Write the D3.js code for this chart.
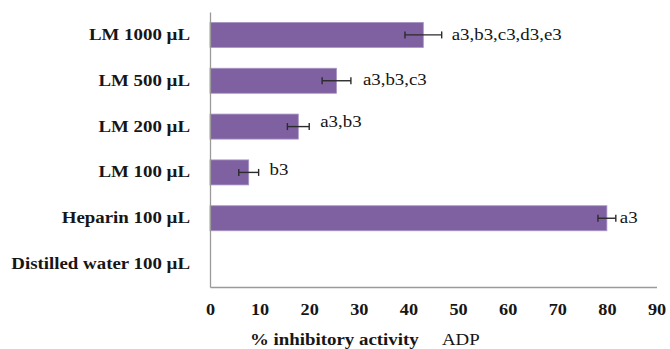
<!DOCTYPE html>
<html>
<head>
<meta charset="utf-8">
<script src="https://cdn.jsdelivr.net/npm/d3@7"></script>
<style>
  html, body { margin: 0; padding: 0; background: #fff; }
  svg { display: block; }
  text { font-family: "Liberation Serif", "Times New Roman", serif; fill: #161616; }
</style>
</head>
<body>
<svg id="chart" width="670" height="349"></svg>
<script>
// Treatments (top to bottom) and their mean % inhibition with standard error
const categories = ["LM 1000 µL", "LM 500 µL", "LM 200 µL", "LM 100 µL", "Heparin 100 µL", "Distilled water 100 µL"];
const values = [43, 25.5, 17.8, 7.8, 80, 0];
const errors = [3.7, 2.9, 2.2, 2.0, 1.8, 0];
const significance = ["a3,b3,c3,d3,e3", "a3,b3,c3", "a3,b3", "b3", "a3", ""];
const xTicks = [0, 10, 20, 30, 40, 50, 60, 70, 80, 90];
const xTitle = "% inhibitory activity";
const xSubTitle = "ADP";

// Text is drawn horizontally widened
const STRETCH = 1.18;
const labelGap = [10, 12, 11, 11, 4, 0];
const labelNudge = [0, -1, -5, -2, 0, 0];

const svg = d3.select("#chart");
const plotLeft = 210, plotRight = 656.5, plotTop = 12, plotBottom = 287;

const x = d3.scaleLinear().domain([0, 90]).range([plotLeft, plotRight]);
const y = d3.scaleBand().domain(categories).range([plotTop, plotBottom])
  .paddingInner(0.454).paddingOuter(0.227);

const rows = categories.map((c, i) => ({
  cat: c, value: values[i], err: errors[i], sig: significance[i],
  gap: labelGap[i], nudge: labelNudge[i]
}));

// Bars
svg.append("g").selectAll("rect").data(rows.filter(d => d.value > 0)).join("rect")
  .attr("x", x(0))
  .attr("y", d => y(d.cat))
  .attr("width", d => x(d.value) - x(0))
  .attr("height", y.bandwidth())
  .attr("fill", "#7f60a1")
  .attr("stroke", "#a995c4")
  .attr("stroke-width", 0.8);

// Error bars
const eb = svg.append("g").attr("stroke", "#2b2b2b").attr("stroke-width", 1.4)
  .selectAll("g").data(rows.filter(d => d.err > 0)).join("g")
  .attr("transform", d => `translate(0,${y(d.cat) + y.bandwidth() / 2})`);
eb.append("line").attr("x1", d => x(d.value - d.err)).attr("x2", d => x(d.value + d.err));
eb.append("line").attr("x1", d => x(d.value - d.err)).attr("x2", d => x(d.value - d.err)).attr("y1", -3.5).attr("y2", 3.5);
eb.append("line").attr("x1", d => x(d.value + d.err)).attr("x2", d => x(d.value + d.err)).attr("y1", -3.5).attr("y2", 3.5);

// Significance letters
svg.append("g").selectAll("text").data(rows.filter(d => d.sig)).join("text")
  .attr("transform", d => `translate(${x(d.value + d.err) + d.gap},${y(d.cat) + y.bandwidth() / 2 + 5 + d.nudge}) scale(${STRETCH},1)`)
  .attr("font-size", 16)
  .text(d => d.sig);

// Left axis (category labels)
const yAxis = svg.append("g").attr("transform", `translate(${plotLeft},0)`)
  .call(d3.axisLeft(y).tickSize(0).tickSizeOuter(0));
yAxis.select(".domain").attr("stroke", "#9a9a9a").attr("stroke-width", 1.3);
yAxis.selectAll(".tick text")
  .attr("x", 0).attr("dy", null).attr("y", 5)
  .attr("transform", `translate(-20,0) scale(${STRETCH},1)`)
  .attr("font-family", "Liberation Serif, serif")
  .attr("font-size", 16).attr("font-weight", "bold").attr("fill", "#161616");

// Bottom axis
const xAxis = svg.append("g").attr("transform", `translate(0,${plotBottom})`)
  .call(d3.axisBottom(x).tickValues(xTicks).tickSize(0).tickSizeOuter(0));
xAxis.select(".domain").attr("stroke", "#9a9a9a").attr("stroke-width", 1.3);
xAxis.selectAll(".tick text")
  .attr("dy", null).attr("y", 0)
  .attr("transform", `translate(0,28) scale(1.14,1)`)
  .attr("font-family", "Liberation Serif, serif")
  .attr("font-size", 16).attr("font-weight", "bold").attr("fill", "#161616");

// Axis title
svg.append("text")
  .attr("transform", `translate(250,344.5) scale(${STRETCH},1)`)
  .attr("font-size", 16).attr("font-weight", "bold")
  .text(xTitle);
svg.append("text")
  .attr("transform", `translate(442,344.5) scale(${STRETCH},1)`)
  .attr("font-size", 16)
  .text(xSubTitle);
</script>
</body>
</html>
